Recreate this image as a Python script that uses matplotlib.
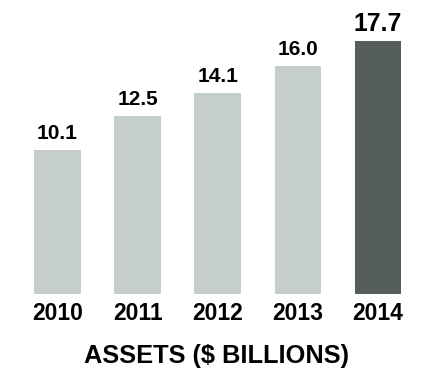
import matplotlib
matplotlib.use("Agg")
import matplotlib.pyplot as plt

years = ["2010", "2011", "2012", "2013", "2014"]
assets = [10.1, 12.5, 14.1, 16.0, 17.7]
bar_colors = ["#c5cecc", "#c5cecc", "#c5cecc", "#c5cecc", "#555e59"]
title = "ASSETS ($ BILLIONS)"

plt.rcParams["font.family"] = ["Liberation Sans", "DejaVu Sans"]

fig = plt.figure(figsize=(4.43, 3.70), dpi=100)
ax = fig.add_axes([0, 76 / 370, 1, 294 / 370])

x = list(range(len(years)))
ax.bar(x, assets, width=0.58, color=bar_colors)
ax.set_xlim(-0.718, 4.813)
ax.set_ylim(0, 20.6)
ax.axis("off")

# value on top of each bar, the latest year a bit larger
for i, v in enumerate(assets):
    size = 17.8 if i == len(assets) - 1 else 15
    ax.annotate(f"{v:.1f}", (i, v), xytext=(0, 7.5), textcoords="offset points",
                ha="center", va="baseline", fontsize=size, fontweight="bold")

# year labels under the bars
for i, yr in enumerate(years):
    ax.annotate(yr, (i, 0), xytext=(0, -18.7), textcoords="offset points",
                ha="center", va="baseline", fontsize=16.5, fontweight="bold")

fig.text(217 / 443, 1 - 363.5 / 370, title, ha="center", va="baseline",
         fontsize=18.3, fontweight="bold")

fig.savefig("out.png", dpi=100)
